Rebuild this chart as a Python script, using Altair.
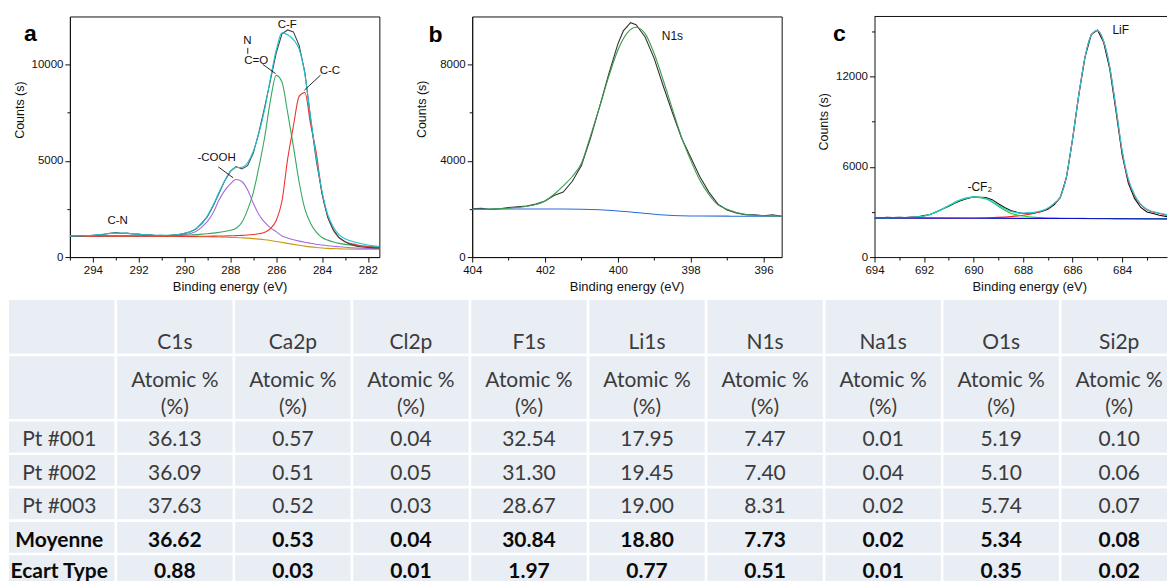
import altair as alt
import pandas as pd

FONT = "Liberation Sans"
TFONT = "Lato"
INK = "#111111"

# ---------------- panel a : C1s ----------------
A_E = [295, 294.5, 294, 293.5, 293, 292.5, 292, 291.5, 291, 290.5, 290,
       289.75, 289.5, 289.25, 289, 288.75, 288.5, 288.25, 288,
       287.75, 287.5, 287.25, 287, 286.75, 286.5, 286.25, 286,
       285.75, 285.5, 285.25, 285, 284.75, 284.5, 284.25, 284,
       283.75, 283.5, 283.25, 283, 282.5, 282, 281.5]
A_BG = [1090, 1090, 1088, 1086, 1084, 1082, 1080, 1077, 1074, 1070, 1066,
        1063, 1060, 1056, 1052, 1047, 1041, 1034, 1025,
        1014, 1000, 982, 960, 932, 898, 858, 812,
        762, 710, 660, 612, 568, 530, 498, 472,
        452, 438, 428, 421, 412, 407, 404]
A_COOH = [1095, 1097, 1099, 1101, 1104, 1107, 1110, 1115, 1122, 1130, 1170,
          1220, 1330, 1560, 1850, 2300, 2950, 3450, 3800,
          4030, 3930, 3500, 2800, 2200, 1800, 1520, 1320,
          1100, 990, 900, 830, 770, 720, 670, 630,
          590, 560, 535, 510, 470, 445, 430]
A_NCO = [1092, 1093, 1094, 1096, 1098, 1101, 1104, 1108, 1113, 1120, 1135,
         1150, 1165, 1190, 1215, 1245, 1285, 1330, 1390,
         1500, 1800, 2450, 3350, 4700, 6250, 8150, 9440,
         9100, 7500, 5750, 3900, 2500, 1750, 1300, 1020,
         880, 780, 710, 660, 600, 555, 525]
A_CC = [1088, 1088, 1087, 1086, 1085, 1084, 1083, 1082, 1080, 1078, 1076,
        1076, 1077, 1079, 1082, 1086, 1091, 1097, 1105,
        1115, 1128, 1145, 1170, 1210, 1290, 1480, 1900,
        2900, 5100, 6800, 8350, 8550, 6900, 5400, 3300,
        2100, 1380, 1000, 800, 640, 530, 480]
A_ENV = [1100, 1110, 1135, 1195, 1250, 1230, 1185, 1150, 1135, 1150, 1240,
         1320, 1480, 1720, 2150, 2700, 3350, 3950, 4450,
         4650, 4660, 4900, 5500, 6450, 7700, 9300, 10750,
         11650, 11550, 11300, 10800, 9500, 7250, 5150, 3400,
         2200, 1550, 1150, 950, 760, 630, 550]
A_RAW_E = [295, 294.75, 294.5, 294.25, 294, 293.75, 293.5, 293.25, 293, 292.75,
           292.5, 292.25, 292, 291.75, 291.5, 291.25, 291, 290.75, 290.5, 290.25,
           290, 289.75, 289.5, 289.25, 289, 288.75, 288.5, 288.25, 288, 287.75,
           287.5, 287.25, 287, 286.75, 286.5, 286.25, 286, 285.75, 285.5, 285.25,
           285, 284.75, 284.5, 284.25, 284, 283.75, 283.5, 283.25, 283, 282.75,
           282.5, 282.25, 282, 281.75, 281.5]
A_RAW = [1090, 1105, 1100, 1120, 1130, 1160, 1185, 1240, 1270, 1230,
         1245, 1200, 1190, 1150, 1160, 1120, 1130, 1110, 1150, 1170,
         1230, 1310, 1460, 1760, 2100, 2650, 3300, 3950, 4450, 4700,
         4580, 4750, 5400, 6500, 7800, 9200, 10600, 11600, 11800, 11700,
         11000, 9600, 7200, 5000, 3300, 2050, 1400, 1000, 800, 650,
         570, 520, 500, 480, 470]
A_TEXT = ["C-N", "-COOH", "N", "C=O", "C-F", "C-C"]
A_TEXT_E = [292.92, 288.6, 287.26, 286.87, 285.52, 283.66]
A_TEXT_C = [1898, 5129, 11205, 10207, 12068, 9654]
A_LEAD_E = [288.53, 287.24, 286.59, 284.07]
A_LEAD_C = [4690, 10869, 10016, 9447]
A_LEAD_E2 = [287.88, 287.24, 286.03, 284.77]
A_LEAD_C2 = [4121, 10558, 9535, 8671]
A_LETTER = ["a", 297.0, 11240]

# ---------------- panel b : N1s ----------------
B_E = [404, 403.5, 403, 402.5, 402, 401.75, 401.5, 401.25, 401, 400.75, 400.5,
       400.25, 400, 399.75, 399.5, 399.25, 399, 398.75, 398.5, 398.25, 398,
       397.75, 397.5, 397.25, 397, 396.5, 396, 395.5]
B_FIT = [1990, 2000, 2030, 2110, 2330, 2610, 2960, 3350, 3900, 5040, 6240,
         7500, 8600, 9300, 9555, 9290, 8450, 7340, 6150, 4980, 4030,
         3200, 2600, 2170, 1990, 1775, 1720, 1705]
B_RAW_E = [404, 403.75, 403.5, 403.25, 403, 402.75, 402.5, 402.25, 402, 401.75,
           401.5, 401.25, 401, 400.75, 400.5, 400.25, 400, 399.85, 399.65, 399.5,
           399.25, 399, 398.75, 398.5, 398.25, 398, 397.75, 397.5, 397.25, 397,
           396.75, 396.5, 396.25, 396, 395.75, 395.5]
B_RAW = [2010, 2030, 1980, 2010, 2060, 2090, 2120, 2200, 2330, 2560,
         2700, 3150, 3800, 4950, 6250, 7600, 8850, 9400, 9740, 9660,
         9150, 8250, 7100, 6000, 4950, 4150, 3350, 2700, 2200, 1960,
         1830, 1760, 1760, 1720, 1760, 1700]
B_BG_E = [404, 403, 402, 401.5, 401, 400.5, 400, 399.5, 399, 398.5, 398, 397, 396, 395.5]
B_BG = [1990, 1995, 1998, 1998, 1990, 1965, 1915, 1850, 1780, 1730, 1710, 1700, 1695, 1695]
B_TEXT = ["N1s"]
B_TEXT_E = [398.5]
B_TEXT_C = [9200]
B_LETTER = ["b", 405.2, 8960]

# ---------------- panel c : F1s ----------------
C_E = [694, 693.5, 693, 692.5, 692, 691.5, 691, 690.5, 690, 689.5, 689, 688.5,
       688, 687.5, 687, 686.75, 686.5, 686.25, 686, 685.75, 685.5, 685.25, 685,
       684.75, 684.5, 684.25, 684, 683.75, 683.5, 683.25, 683, 682.5, 682.19]
C_CF2 = [2600, 2600, 2605, 2630, 2720, 2990, 3420, 3820, 3985, 3870, 3380, 2920,
         2730, 2640, 2600, 2590, 2585, 2580, 2575, 2572, 2570, 2568, 2565,
         2562, 2560, 2558, 2555, 2553, 2551, 2549, 2547, 2544, 2542]
C_LIF = [2595, 2595, 2595, 2595, 2595, 2595, 2596, 2598, 2602, 2615, 2640, 2690,
         2780, 2930, 3240, 3560, 4000, 5350, 7900, 10800, 13300, 14750, 15070,
         14350, 12600, 9900, 7000, 5100, 4080, 3480, 3150, 2900, 2790]
C_ENV = [2600, 2605, 2610, 2640, 2730, 3000, 3430, 3830, 4000, 3900, 3440, 3030,
         2920, 2990, 3260, 3570, 4000, 5350, 7900, 10800, 13300, 14750, 15070,
         14380, 12650, 9950, 7100, 5200, 4150, 3520, 3180, 2930, 2820]
C_RAW_E = [694, 693.75, 693.5, 693.25, 693, 692.75, 692.5, 692.25, 692, 691.75,
           691.5, 691.25, 691, 690.75, 690.5, 690.25, 690, 689.75, 689.5, 689.25,
           689, 688.75, 688.5, 688.25, 688, 687.75, 687.5, 687.25, 687, 686.75,
           686.5, 686.25, 686, 685.75, 685.5, 685.25, 685, 684.75, 684.5, 684.25,
           684, 683.75, 683.5, 683.25, 683, 682.75, 682.5, 682.19]
C_RAW = [2580, 2600, 2650, 2630, 2640, 2620, 2660, 2680, 2760, 2830,
         3020, 3200, 3380, 3600, 3760, 3900, 4000, 3980, 3960, 3820,
         3550, 3300, 3100, 2980, 2900, 2920, 2950, 3030, 3180, 3480,
         3950, 5300, 7850, 10800, 13300, 14800, 15100, 14300, 12500, 9700,
         6800, 4900, 3900, 3300, 3000, 2900, 2780, 2690]
C_BG_E = [694, 690, 686, 682.19]
C_BG = [2600, 2580, 2560, 2537]
C_TEXT = ["-CF\u2082", "LiF"]
C_TEXT_E = [689.75, 684.06]
C_TEXT_C = [4650, 15117]
C_LETTER = ["c", 695.68, 14340]

# ---------------- table ----------------
COLS = ["", "C1s", "Ca2p", "Cl2p", "F1s", "Li1s", "N1s", "Na1s", "O1s", "Si2p"]
UNIT_LINES = ["Atomic %", "(%)"]
ROW_LABELS = ["Pt #001", "Pt #002", "Pt #003", "Moyenne", "Ecart Type"]
PT001 = [36.13, 0.57, 0.04, 32.54, 17.95, 7.47, 0.01, 5.19, 0.10]
PT002 = [36.09, 0.51, 0.05, 31.30, 19.45, 7.40, 0.04, 5.10, 0.06]
PT003 = [37.63, 0.52, 0.03, 28.67, 19.00, 8.31, 0.02, 5.74, 0.07]
MOYENNE = [36.62, 0.53, 0.04, 30.84, 18.80, 7.73, 0.02, 5.34, 0.08]
ECART = [0.88, 0.03, 0.01, 1.97, 0.77, 0.51, 0.01, 0.35, 0.02]
BOLD_ROWS = ["Moyenne", "Ecart Type"]

# ---------------- layout (pixels, not data) ----------------
PW = 310          # plot width of panels a, b
PW_C = 293        # visible plot width of panel c (cut at the page edge)
PH = 241
COL_PX = 118.25
ROW_PX = 33.5
TABLE_TOP = 284           # below the top of the plot frames
TABLE_LEFT = -61          # left of panel a's plot frame
TABLE_RIGHT = 1099        # right end, relative to panel a's plot frame
TABLE_BOTTOM = 566
COL1_LEFT = 46            # first column separator, relative to panel a's frame
ROW_H_PX = [55, 65.5, 33.5, 33.5, 33.5, 33.5, 33.5]
TEXT_DY_PX = [16, 0, 3.5, 3.5, 3.5, 3.5, 1.5]
UNIT_DY_PX = [-6.3, 20.4]
GAP_PX = 2.6


def curve(e, c):
    return pd.DataFrame({"e": e, "c": c})


def make_panel(curves, texts, leaders, letter, xdom, ydom, width, xvals, xtest,
               yvals, ytest, xtitle_x, ytitle_y, text_size, boxed=True,
               extra=None):
    xscale = alt.Scale(domain=xdom, reverse=True, nice=False, zero=False)
    yscale = alt.Scale(domain=ydom, nice=False, zero=False)
    xaxis = alt.Axis(values=xvals, format="d", title="Binding energy (eV)",
                     orient="bottom",
                     labelExpr=f"({xtest}) ? datum.label : ''",
                     tickSize=alt.ExprRef(expr=f"({xtest}) ? 5 : 3"),
                     titleX=xtitle_x, titleY=33.5, titleBaseline="alphabetic",
                     titleAlign="center", titleFontSize=13)
    yaxis = alt.Axis(values=yvals, format="d", title="Counts (s)",
                     orient="left",
                     labelExpr=f"({ytest}) ? datum.label : ''",
                     tickSize=alt.ExprRef(expr=f"({ytest}) ? 5 : 3"),
                     titleX=-46.7, titleY=ytitle_y, titleBaseline="alphabetic",
                     titleAlign="center", titleFontSize=12.5)

    def X(f):
        return alt.X(f, scale=xscale, axis=xaxis)

    def Y(f):
        return alt.Y(f, scale=yscale, axis=yaxis)

    layers = []
    for df, color, interp in curves:
        layers.append(
            alt.Chart(df).mark_line(color=color, strokeWidth=1.1,
                                    interpolate=interp, clip=True)
            .encode(x=X("e:Q"), y=Y("c:Q"))
        )
    if leaders is not None:
        layers.append(
            alt.Chart(leaders).mark_rule(color=INK, strokeWidth=0.9)
            .encode(x=X("e:Q"), y=Y("c:Q"), x2="e2:Q", y2="c2:Q")
        )
    layers.append(
        alt.Chart(texts).mark_text(font=FONT, fontSize=text_size, color=INK,
                                   align="center", baseline="middle")
        .encode(x=X("e:Q"), y=Y("c:Q"), text="t:N")
    )
    let_df = pd.DataFrame({"t": [letter[0]], "e": [letter[1]], "c": [letter[2]]})
    layers.append(
        alt.Chart(let_df).mark_text(font=FONT, fontSize=23, fontWeight="bold",
                                    color="#000000", align="left",
                                    baseline="alphabetic")
        .encode(x=X("e:Q"), y=Y("c:Q"), text="t:N")
    )
    if not boxed:
        layers.append(
            alt.Chart(pd.DataFrame({"k": [0]})).mark_rule(color=INK, strokeWidth=1)
            .encode(x=alt.value(0), x2=alt.value(width), y=alt.value(0))
        )
    spectra = alt.layer(*layers)
    if extra is not None:
        out = alt.layer(spectra, extra).resolve_scale(x="independent", y="independent")
    else:
        out = spectra
    props = dict(width=width, height=PH)
    if not boxed:
        props["view"] = alt.ViewBackground(stroke="transparent")
    return out.properties(**props)


# ---- table (drawn below the panels, in panel a's frame, on scales of its own)
T_X0 = 0.5 - COL1_LEFT / COL_PX            # column units at panel a's left edge
T_X_SPAN = PW / COL_PX
T_LEFT = 0.5 - (COL1_LEFT - TABLE_LEFT) / COL_PX
T_RIGHT = 0.5 + (TABLE_RIGHT - COL1_LEFT) / COL_PX
T_Y0 = -TABLE_TOP / ROW_PX                 # row units at panel a's top edge
T_Y_SPAN = PH / ROW_PX
T_BOTTOM = (TABLE_BOTTOM - TABLE_TOP) / ROW_PX
gx = GAP_PX / COL_PX / 2
gy = GAP_PX / ROW_PX / 2

row_texts = [COLS, [""] + [UNIT_LINES] * 9]
for lab, vals in zip(ROW_LABELS, [PT001, PT002, PT003, MOYENNE, ECART]):
    row_texts.append([lab] + [f"{v:.2f}" for v in vals])

edges = [0.0]
for h in ROW_H_PX:
    edges.append(edges[-1] + h / ROW_PX)

cells, texts = [], []
for r, row in enumerate(row_texts):
    top, bot = edges[r], edges[r + 1]
    for ci, txt in enumerate(row):
        x1 = T_LEFT if ci == 0 else ci - 0.5 + gx
        x2 = min(ci + 0.5 - gx, T_RIGHT)
        y1 = top if r == 0 else top + gy
        y2 = min(bot - gy, T_BOTTOM)
        cells.append({"x": x1, "x2": x2, "y": y1, "y2": y2})
        if not txt:
            continue
        lines = txt if isinstance(txt, list) else [txt]
        dys = UNIT_DY_PX if isinstance(txt, list) else [TEXT_DY_PX[r]]
        for line, dy in zip(lines, dys):
            texts.append({
                "xc": ci + (2.5 / COL_PX if ci == 0 else 0),
                "yc": (top + bot) / 2 + dy / ROW_PX,
                "t": line,
                "bold": r >= 2 and row[0] in BOLD_ROWS,
            })
cell_df = pd.DataFrame(cells)
text_df = pd.DataFrame(texts)

tx = alt.Scale(domain=[T_X0, T_X0 + T_X_SPAN], nice=False, zero=False)
ty = alt.Scale(domain=[T_Y0, T_Y0 + T_Y_SPAN], nice=False, zero=False, reverse=True)

cell_layer = alt.Chart(cell_df).mark_rect(color="#E9EDF4").encode(
    x=alt.X("x:Q", scale=tx, axis=None), x2="x2:Q",
    y=alt.Y("y:Q", scale=ty, axis=None), y2="y2:Q")
normal_layer = alt.Chart(text_df[~text_df["bold"]]).mark_text(
    font=TFONT, fontSize=21, color="#3b3b3b",
    align="center", baseline="middle").encode(
    x=alt.X("xc:Q", scale=tx, axis=None), y=alt.Y("yc:Q", scale=ty, axis=None),
    text="t:N")
bold_layer = alt.Chart(text_df[text_df["bold"]]).mark_text(
    font=TFONT, fontSize=21, fontWeight="bold", color="#0a0a0a",
    align="center", baseline="middle").encode(
    x=alt.X("xc:Q", scale=tx, axis=None), y=alt.Y("yc:Q", scale=ty, axis=None),
    text="t:N")
table = alt.layer(cell_layer, normal_layer, bold_layer)

# ---- panel a
a_curves = [
    (curve(A_E, A_BG), "#C99A12", "monotone"),
    (curve(A_E, A_COOH), "#A56BE0", "monotone"),
    (curve(A_E, A_NCO), "#36A85E", "monotone"),
    (curve(A_E, A_CC), "#F0342E", "monotone"),
    (curve(A_RAW_E, A_RAW), "#444444", "linear"),
    (curve(A_E, A_ENV), "#1CC3D2", "monotone"),
]
a_text = pd.DataFrame({"t": A_TEXT, "e": A_TEXT_E, "c": A_TEXT_C})
a_lead = pd.DataFrame({"e": A_LEAD_E, "c": A_LEAD_C, "e2": A_LEAD_E2, "c2": A_LEAD_C2})
panel_a = make_panel(a_curves, a_text, a_lead, A_LETTER, [281.5, 295], [0, 12500], PW,
                     list(range(282, 296)), "datum.value % 2 === 0",
                     [0, 2500, 5000, 7500, 10000], "datum.value % 5000 === 0",
                     160, 93.3, 11.5, extra=table)

# ---- panel b
b_curves = [
    (curve(B_RAW_E, B_RAW), "#333333", "linear"),
    (curve(B_BG_E, B_BG), "#2A6BDA", "monotone"),
    (curve(B_E, B_FIT), "#3E9B50", "monotone"),
]
b_text = pd.DataFrame({"t": B_TEXT, "e": B_TEXT_E, "c": B_TEXT_C})
panel_b = make_panel(b_curves, b_text, None, B_LETTER, [395.5, 404], [0, 10000], PW,
                     list(range(396, 405)), "datum.value % 2 === 0",
                     [0, 2000, 4000, 6000, 8000], "datum.value % 4000 === 0",
                     154.7, 92.5, 12)

# ---- panel c
c_curves = [
    (curve(C_RAW_E, C_RAW), "#111111", "linear"),
    (curve(C_E, C_LIF), "#F02020", "monotone"),
    (curve(C_E, C_CF2), "#20D020", "monotone"),
    (curve(C_E, C_ENV), "#22CCDD", "monotone"),
    (curve(C_BG_E, C_BG), "#1010D0", "monotone"),
]
c_text = pd.DataFrame({"t": C_TEXT, "e": C_TEXT_E, "c": C_TEXT_C})
panel_c = make_panel(c_curves, c_text, None, C_LETTER, [682.19, 694], [0, 16000], PW_C,
                     list(range(683, 695)),
                     "datum.value % 2 === 0",
                     [0, 3000, 6000, 9000, 12000, 15000],
                     "datum.value % 6000 === 0",
                     155, 105, 12, boxed=False)

chart = alt.hconcat(
    panel_a, panel_b, panel_c, spacing=93, bounds="flush",
).properties(
    padding={"left": 0, "top": 7, "right": 0, "bottom": 0},
).configure_view(
    stroke=INK, strokeWidth=1,
).configure_axis(
    domainColor=INK, tickColor=INK, labelColor=INK, titleColor=INK,
    labelFont=FONT, titleFont=FONT, labelFontSize=11.5,
    titleFontWeight="normal", grid=False, labelPadding=2,
    labelOverlap=False, labelFlush=False, domainWidth=1, tickWidth=1,
)

chart.save("out.html", embed_options={"renderer": "svg", "actions": False})
